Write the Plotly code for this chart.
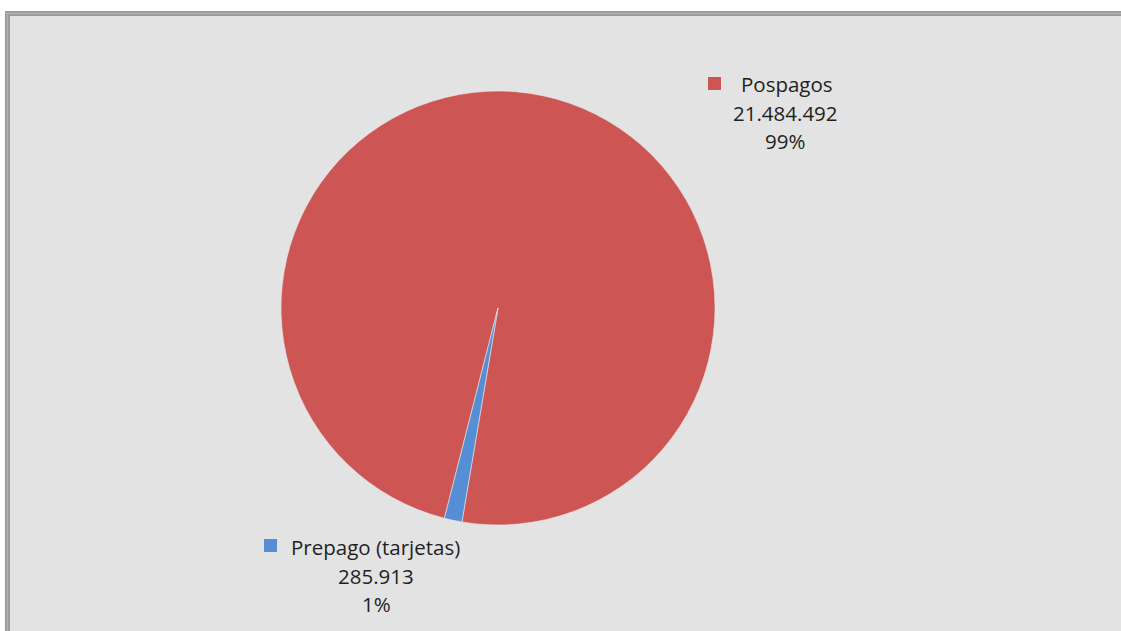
import plotly.graph_objects as go

labels = ["Pospagos", "Prepago (tarjetas)"]
values = [21484492, 285913]
colors = ["#CD5654", "#558ED5"]

W, H = 1121, 631
total = sum(values)
pcts = [round(v / total * 100) for v in values]

def fmt(v):
    return f"{v:,}".replace(",", ".")

fig = go.Figure()
fig.add_trace(go.Pie(
    labels=labels, values=values, sort=False, direction="clockwise",
    rotation=194.3, textinfo="none", hoverinfo="label+value+percent",
    marker=dict(colors=colors, line=dict(color="#e8e8e8", width=0.6)),
    domain=dict(x=[(498 - 217) / W, (498 + 217) / W],
                y=[(H - 308 - 217) / H, (H - 308 + 217) / H]),
    showlegend=False,
))

def px(x):
    return x / W

def py(y):
    return 1 - y / H

shapes = [
    # white margins at top and left
    dict(type="rect", xref="paper", yref="paper", layer="below",
         x0=0, x1=1, y0=py(11), y1=1, fillcolor="white", line=dict(width=0)),
    dict(type="rect", xref="paper", yref="paper", layer="below",
         x0=0, x1=px(5), y0=0, y1=1, fillcolor="white", line=dict(width=0)),
    # frame lines
    dict(type="line", xref="paper", yref="paper", layer="below",
         x0=px(5), x1=1, y0=py(13.5), y1=py(13.5), line=dict(color="#9a9a9a", width=5)),
    dict(type="line", xref="paper", yref="paper", layer="below",
         x0=px(7.5), x1=px(7.5), y0=0, y1=py(11), line=dict(color="#9a9a9a", width=5)),
    dict(type="line", xref="paper", yref="paper", layer="below",
         x0=px(5), x1=1, y0=py(13.5), y1=py(13.5), line=dict(color="#b4b4b4", width=1.5)),
    dict(type="line", xref="paper", yref="paper", layer="below",
         x0=px(7.5), x1=px(7.5), y0=0, y1=py(13.5), line=dict(color="#b4b4b4", width=1.5)),
]

# label positions (pixels): square top-left, text start x, text center x, first line y
label_pos = [
    dict(sq=(708, 77), tx=739, cx=785, y0=84),
    dict(sq=(264, 539), tx=289, cx=376, y0=547),
]
FONT = dict(family="Open Sans", size=20.5, color="#1f1f1f")
annotations = []
for lab, v, p, c, pos in zip(labels, values, pcts, colors, label_pos):
    sx, sy = pos["sq"]
    shapes.append(dict(type="rect", xref="paper", yref="paper",
                       x0=px(sx), x1=px(sx + 13), y0=py(sy + 13), y1=py(sy),
                       fillcolor=c, line=dict(width=0)))
    lines = [lab, fmt(v), f"{p}%"]
    for i, t in enumerate(lines):
        if i == 0:
            annotations.append(dict(xref="paper", yref="paper", x=px(pos["tx"]),
                                    y=py(pos["y0"]), text=t, showarrow=False,
                                    xanchor="left", yanchor="middle", font=FONT))
        else:
            annotations.append(dict(xref="paper", yref="paper", x=px(pos["cx"]),
                                    y=py(pos["y0"] + 28.5 * i), text=t, showarrow=False,
                                    xanchor="center", yanchor="middle", font=FONT))

fig.update_layout(
    width=W, height=H, margin=dict(l=0, r=0, t=0, b=0),
    paper_bgcolor="#e3e3e3", plot_bgcolor="#e3e3e3",
    shapes=shapes, annotations=annotations,
)
fig.write_html("out.html", config={"displayModeBar": False},
               post_script="document.body.style.margin='0';document.body.style.overflow='hidden';")
